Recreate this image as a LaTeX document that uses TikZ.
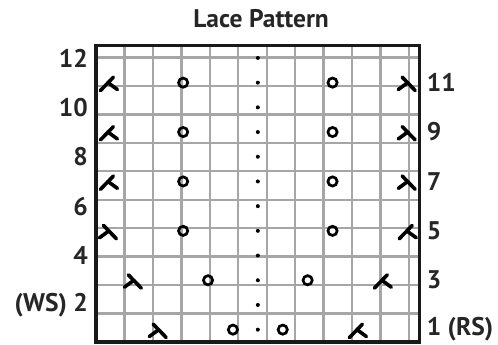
\documentclass[tikz,border=0pt]{standalone}
\usepackage{fontspec}
\setmainfont{PT Sans}
\usepackage{tikz}

\begin{document}
\begin{tikzpicture}[
  x=24.9pt, y=24.7pt,
  lbl/.style={font=\fontsize{25.5}{28}\selectfont\bfseries, text=black!85, inner sep=0pt},
  gridline/.style={draw=black!35, line width=2.4pt},
  frame/.style={draw=black!90, line width=3.4pt},
  mark stroke/.style={line width=3.6pt, line cap=round},
  lsym/.pic={\draw[mark stroke] (-0.32,-0.32) -- (0.2,0.22);
             \draw[mark stroke] (-0.02,0) -- (0.36,-0.28);},
  rsym/.pic={\draw[mark stroke] (0.32,-0.32) -- (-0.2,0.22);
             \draw[mark stroke] (0.02,0) -- (-0.36,-0.28);},
  yo/.pic={\draw[line width=2.7pt] (0,0) circle (4.6pt);},
  pdot/.pic={\fill (0,0) circle (2pt);}
]
\useasboundingbox (-3.855,-0.121) rectangle (16.145,13.846);

% title
\node[lbl] (title) at (6.63,13.08) {Lace Pattern};

% chart
\draw[gridline] (0,0) grid (13,12);
\draw[frame] (0,0) rectangle (13,12);

% row numbers
\foreach \r in {4,6,...,12}
  \node[lbl, anchor=east] (ws\r) at (-0.32,\r-0.5) {\r};
\node[lbl, anchor=east] (ws2) at (-0.32,1.5) {(WS) 2};
\foreach \r in {3,5,...,11}
  \node[lbl, anchor=west] (rs\r) at (13.28,\r-0.5) {\r};
\node[lbl, anchor=west] (rs1) at (13.28,0.5) {1 (RS)};

% centre stitch
\foreach \r in {1,...,12}
  \pic at (6.5,\r-0.5) {pdot};

% yarn overs
\foreach \r in {11,9,7,5}{
  \pic at (3.5,\r-0.5) {yo};
  \pic at (9.5,\r-0.5) {yo};
}
\foreach \c/\r in {5/3, 9/3, 6/1, 8/1}
  \pic at (\c-0.5,\r-0.5) {yo};

% decreases
\foreach \c/\r in {1/11, 1/9, 1/7, 13/5, 12/3, 11/1}
  \pic at (\c-0.5,\r-0.5) {lsym};
\foreach \c/\r in {13/11, 13/9, 13/7, 1/5, 2/3, 3/1}
  \pic at (\c-0.5,\r-0.5) {rsym};
\end{tikzpicture}
\end{document}
